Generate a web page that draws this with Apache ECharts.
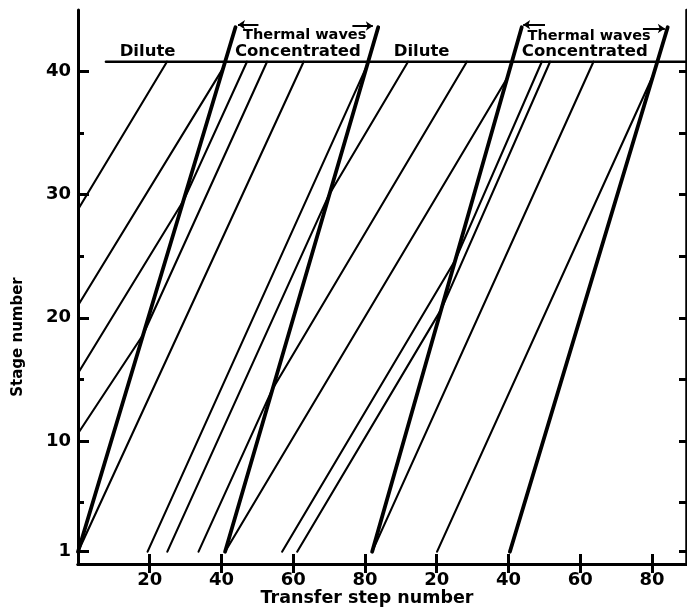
<!DOCTYPE html>
<html>
<head>
<meta charset="utf-8">
<script src="https://cdn.jsdelivr.net/npm/echarts@6/dist/echarts.min.js"></script>
<style>
  html, body { margin: 0; padding: 0; background: #fff; }
  #chart { width: 687px; height: 608px; }
</style>
</head>
<body>
<div id="chart"></div>
<script>
// ---- axis ticks ----
const xTickValues = [20, 40, 60, 80, 100, 120, 140, 160];
const xTickLabels = ['20', '40', '60', '80', '20', '40', '60', '80'];
const yLabelValues = [1, 10, 20, 30, 40];
const yMinorValues = [5, 15, 25, 35];
const yAllTicks = [1, 5, 10, 15, 20, 25, 30, 35, 40];

// ---- last stage (horizontal line) ----
const topStageLine = [[7.8, 40.8], [169.5, 40.8]];

// ---- thermal waves (stage vs transfer step) ----
const thermalWave1 = [[0, 1], [43.9, 43.6]];
const thermalWave2 = [[41, 1], [83.7, 43.6]];
const thermalWave3 = [[82, 1], [123.7, 43.6]];
const thermalWave4 = [[120.4, 1], [164.4, 43.6]];

// ---- solute paths; slope changes where a path crosses a thermal wave ----
const path1 = [[0, 28.8], [24.8, 40.8]];
const path2 = [[0, 21], [40.5, 40.3]];
const path3 = [[0, 15.5], [29.4, 29.5], [47.1, 40.8]];
const path4 = [[0, 10.6], [18.1, 18.6], [52.7, 40.8]];
const path5 = [[0, 1], [62.9, 40.8]];
const path6 = [[19.4, 1], [80.6, 40.5]];
const path7 = [[24.9, 1], [70, 30], [92, 40.8]];
const path8 = [[33.6, 1], [54.2, 14.2], [108.4, 40.8]];
const path9 = [[41, 1], [119.7, 39.5]];
const path10 = [[56.9, 1], [105.2, 24.7], [129.3, 40.8]];
const path11 = [[61.1, 1], [101.3, 20.7], [131.6, 40.8]];
const path12 = [[82, 1], [143.7, 40.8]];
const path13 = [[100.1, 1], [160.5, 39.8]];

const thermalWaves = [thermalWave1, thermalWave2, thermalWave3, thermalWave4];
const solutePaths = [path1, path2, path3, path4, path5, path6, path7,
                     path8, path9, path10, path11, path12, path13];

const FONT = '"DejaVu Sans"';
const INK = '#000';

const chart = echarts.init(document.getElementById('chart'), null, { renderer: 'canvas' });

function lineSeries(data, width) {
  return {
    type: 'line',
    data: data,
    xAxisIndex: 0,
    yAxisIndex: 0,
    showSymbol: false,
    symbol: 'none',
    silent: true,
    animation: false,
    lineStyle: { color: INK, width: width, cap: 'round', join: 'round' },
    z: 3
  };
}

// region labels at the top of the column (anchored in data space)
const regionLabels = [
  { text: 'Dilute', x: 19.4, y: 41.6, size: 16.5 },
  { text: 'Concentrated', x: 61.3, y: 41.6, size: 16.5 },
  { text: 'Thermal waves', x: 63.2, y: 42.95, size: 14.5 },
  { text: 'Dilute', x: 95.8, y: 41.6, size: 16.5 },
  { text: 'Concentrated', x: 141.3, y: 41.6, size: 16.5 },
  { text: 'Thermal waves', x: 142.5, y: 42.85, size: 14.5 }
];

// arrows showing the travel of the thermal waves
const waveArrows = [
  [[50.3, 43.8], [44.6, 43.8]],
  [[76.5, 43.7], [82.2, 43.7]],
  [[130.2, 43.8], [124.1, 43.8]],
  [[157.5, 43.5], [163.6, 43.5]]
];

const series = [];
series.push(lineSeries(topStageLine, 2.6));
solutePaths.forEach(p => series.push(lineSeries(p, 2.1)));
thermalWaves.forEach(p => series.push(lineSeries(p, 3.8)));

series.push({
  type: 'lines',
  coordinateSystem: 'cartesian2d',
  xAxisIndex: 0,
  yAxisIndex: 0,
  silent: true,
  animation: false,
  symbol: ['none', 'arrow'],
  symbolSize: 7,
  lineStyle: { color: INK, width: 2, opacity: 1 },
  data: waveArrows.map(c => ({ coords: c })),
  z: 4
});

const option = {
  backgroundColor: '#fff',
  animation: false,
  grid: { left: 78, right: 1, top: 10, bottom: 44, containLabel: false },
  xAxis: [
    {
      type: 'value', position: 'bottom', min: 0, max: 169.5,
      axisLine: { show: true, lineStyle: { color: INK, width: 3 } },
      axisTick: { show: true, inside: true, length: 10, customValues: xTickValues,
                  lineStyle: { color: INK, width: 3 } },
      axisLabel: { show: true, customValues: xTickValues, margin: 7,
                   formatter: v => xTickLabels[xTickValues.indexOf(v)],
                   fontFamily: 'DejaVu Sans', fontWeight: 'bold', fontSize: 18, color: INK },
      splitLine: { show: false }
    },
    {
      type: 'value', position: 'top', min: 0, max: 169.5,
      axisLine: { show: true, lineStyle: { color: INK, width: 3 } },
      axisTick: { show: true, inside: true, length: 9, customValues: xTickValues,
                  lineStyle: { color: INK, width: 3 } },
      axisLabel: { show: false },
      splitLine: { show: false }
    }
  ],
  yAxis: [
    {
      type: 'value', position: 'left', min: 0, max: 45,
      axisLine: { show: true, lineStyle: { color: INK, width: 3 } },
      axisTick: { show: true, inside: true, length: 11, customValues: yLabelValues,
                  lineStyle: { color: INK, width: 3 } },
      axisLabel: { show: true, customValues: yLabelValues, margin: 7,
                   fontFamily: 'DejaVu Sans', fontWeight: 'bold', fontSize: 18, color: INK },
      splitLine: { show: false }
    },
    {
      type: 'value', position: 'left', offset: 0, min: 0, max: 45,
      axisLine: { show: false },
      axisTick: { show: true, inside: true, length: 6, customValues: yMinorValues,
                  lineStyle: { color: INK, width: 3 } },
      axisLabel: { show: false },
      splitLine: { show: false }
    },
    {
      type: 'value', position: 'right', min: 0, max: 45,
      axisLine: { show: true, lineStyle: { color: INK, width: 2.5 } },
      axisTick: { show: true, inside: true, length: 7, customValues: yAllTicks,
                  lineStyle: { color: INK, width: 3 } },
      axisLabel: { show: false },
      splitLine: { show: false }
    }
  ],
  series: series
};

chart.setOption(option);

// axis titles and region labels as text elements
const graphics = [
  {
    type: 'text',
    x: 18, y: 337, rotation: Math.PI / 2,
    style: { text: 'Stage number', fill: INK, font: 'bold 15px ' + FONT,
             textAlign: 'center', textVerticalAlign: 'middle' },
    silent: true
  },
  {
    type: 'text',
    x: 367, y: 598,
    style: { text: 'Transfer step number', fill: INK, font: 'bold 17.5px ' + FONT,
             textAlign: 'center', textVerticalAlign: 'middle' },
    silent: true
  }
];
regionLabels.forEach(l => {
  const p = chart.convertToPixel({ xAxisIndex: 0, yAxisIndex: 0 }, [l.x, l.y]);
  graphics.push({
    type: 'text',
    x: p[0], y: p[1],
    z: 10,
    style: { text: l.text, fill: INK, font: 'bold ' + l.size + 'px ' + FONT,
             textAlign: 'center', textVerticalAlign: 'middle' },
    silent: true
  });
});
chart.setOption({ graphic: graphics });
</script>
</body>
</html>
